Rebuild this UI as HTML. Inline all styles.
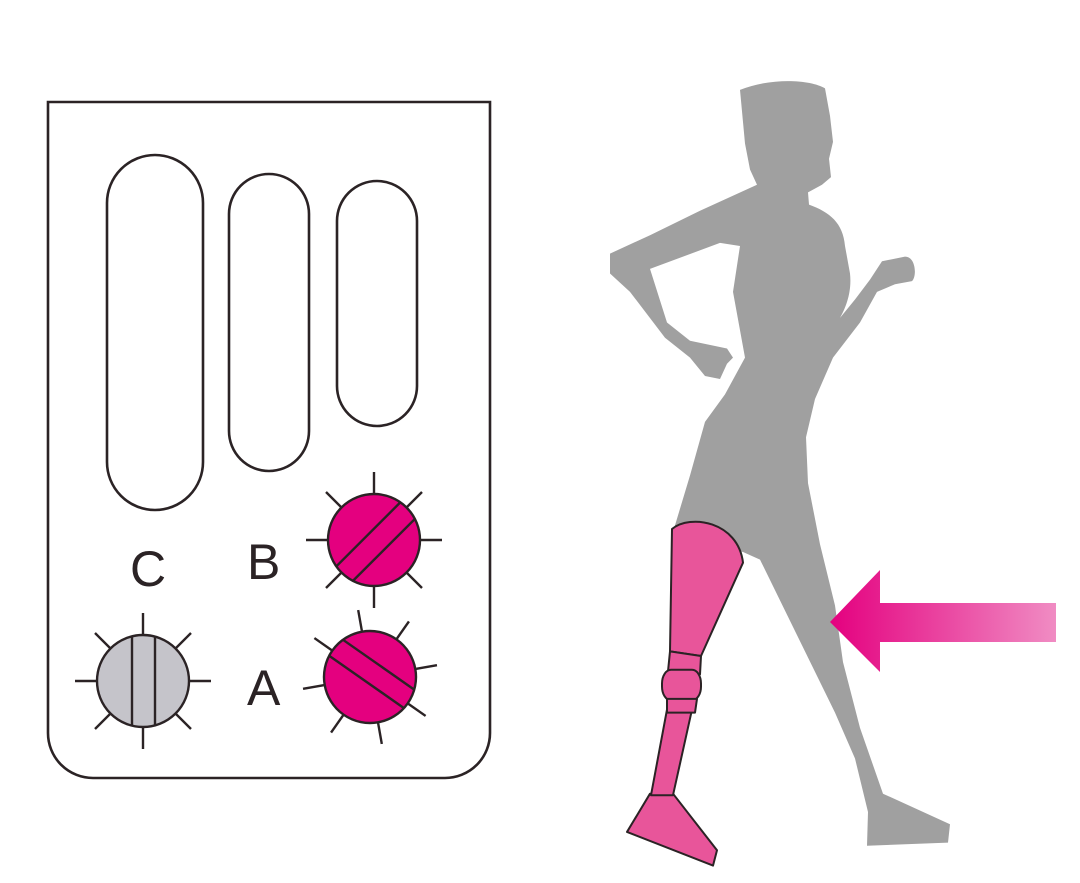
<!DOCTYPE html>
<html><head><meta charset="utf-8"><style>html,body{margin:0;padding:0;background:#fff}svg{display:block}</style></head><body>
<svg width="1080" height="883" viewBox="0 0 1080 883" xmlns="http://www.w3.org/2000/svg">
<defs>
<linearGradient id="ag" x1="830" y1="0" x2="1056" y2="0" gradientUnits="userSpaceOnUse">
<stop offset="0" stop-color="#e4007f"/><stop offset="1" stop-color="#f08cc3"/></linearGradient>
</defs>
<g fill="none" stroke="#2b2325" stroke-width="2.6">
<path d="M48,102 H490 V733 A45,45 0 0 1 445,778 H93 A45,45 0 0 1 48,733 Z"/>
<rect x="107" y="155" width="96" height="355" rx="48"/>
<rect x="229" y="174" width="80" height="297" rx="40"/>
<rect x="337" y="181" width="80" height="245" rx="40"/>
</g>
<g font-family="Liberation Sans, sans-serif" font-size="50" fill="#2b2325">
<text x="130" y="586">C</text><text x="247" y="579">B</text><text x="247" y="705">A</text>
</g>
<g stroke="#2b2325" stroke-width="2.4">
<g transform="translate(374,540)">
<g id="tk"><line x1="0" y1="-47" x2="0" y2="-68"/><line x1="0" y1="47" x2="0" y2="68"/><line x1="-47" y1="0" x2="-68" y2="0"/><line x1="47" y1="0" x2="68" y2="0"/>
<line x1="33" y1="-33" x2="48" y2="-48"/><line x1="-33" y1="-33" x2="-48" y2="-48"/><line x1="33" y1="33" x2="48" y2="48"/><line x1="-33" y1="33" x2="-48" y2="48"/></g>
<circle r="46" fill="#e4007f"/>
<g transform="rotate(45)"><line x1="-8" y1="-45" x2="-8" y2="45"/><line x1="14" y1="-44" x2="14" y2="44"/></g>
</g>
<g transform="translate(143,681)">
<use href="#tk"/>
<circle r="46" fill="#c5c4ca"/>
<line x1="-11" y1="-45" x2="-11" y2="45"/><line x1="12" y1="-45" x2="12" y2="45"/>
</g>
<g transform="translate(370,677) rotate(-10)">
<use href="#tk"/>
<circle r="46" fill="#e4007f"/>
<g transform="rotate(-45)"><line x1="-6" y1="-45" x2="-6" y2="45"/><line x1="15" y1="-43" x2="15" y2="43"/></g>
</g>
</g>
<g transform="translate(0,70) scale(1,1.53) translate(0,-70)">
<path fill="#a0a0a0" d="M740,83 C770,75 810,76 825,82 L830,100 L833,117 L829,128 L831,140 L822,145 L808,150 L809,158 C830,163 843,170 845,185 L850,203 C852,215 846,225 840,232 L855,220 L870,207 L882,195 L905,192 C916,192 917,205 912,208 L895,210 L877,215 L860,235 L833,258 L815,285 L806,310 L808,340 L820,380 L835,420 L843,457 L860,500 L883,543 L950,563 L948,575 L867,577 L868,555 L855,520 L835,490 L760,390 L743,385 L673,372 L690,335 L705,300 L725,282 L745,258 L733,215 L740,185 L720,183 L650,200 L667,235 L690,247 L727,252 L733,258 L727,262 L720,272 L705,270 L690,258 L665,245 L630,215 L610,203 L610,190 L650,178 L700,162 L720,156 L757,145 L750,135 L745,118 Z"/>
<g fill="#e8559a" stroke="#2b2325" stroke-width="2" stroke-linejoin="round">
<path vector-effect="non-scaling-stroke" d="M650,543 L673,543 L717,580 L713,590 L627,568 Z"/>
<path vector-effect="non-scaling-stroke" d="M667,488 L692,488 L673,544 L651,544 Z"/>
<path vector-effect="non-scaling-stroke" d="M672,370 C690,360 738,365 743,392 L701,453 L670,450 Z"/>
<path vector-effect="non-scaling-stroke" d="M670,450 L701,453 L700,465 L668,463 Z"/>
<rect vector-effect="non-scaling-stroke" x="662" y="462" width="39" height="20" rx="9"/>
<path vector-effect="non-scaling-stroke" d="M667,481 L697,481 L695,490 L667,490 Z"/>
</g>
</g>
<path fill="url(#ag)" d="M830,622 L880,570 L880,603 L1056,603 L1056,642 L880,642 L880,672 Z"/>
</svg>
</body></html>
